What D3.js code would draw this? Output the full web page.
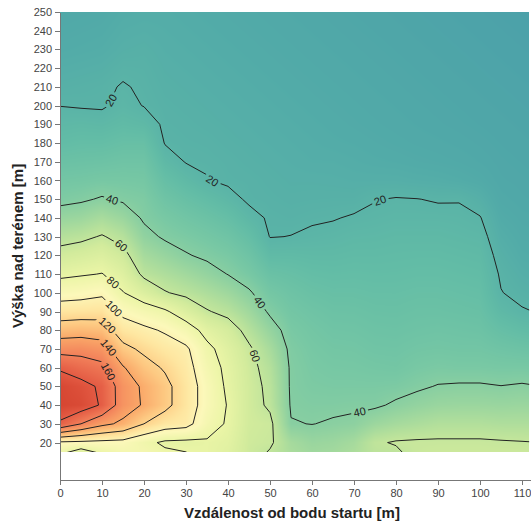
<!DOCTYPE html>
<html lang="cs">
<head>
<meta charset="utf-8">
<title>Výška nad terénem</title>
<script src="https://cdn.jsdelivr.net/npm/d3@7"></script>
<style>
  html, body { margin: 0; padding: 0; background: #fff; }
  #chart svg { display: block; }
  .axis text { font: 11px "Liberation Sans", Arial, sans-serif; fill: #444; }
  .axis path, .axis line { stroke: #777; shape-rendering: crispEdges; }
  .title { font: bold 15px "Liberation Sans", Arial, sans-serif; fill: #222; }
  .clabel { font: 11px "Liberation Sans", Arial, sans-serif; fill: #222; }
</style>
</head>
<body>
<div id="chart"></div>
<script>
// grid columns: distance from the start point [m]
const distances = [0, 5, 10, 15, 20, 25, 30, 35, 40, 45, 50, 55, 60, 65, 70, 75, 80, 85, 90, 95, 100, 105, 110, 115];
// grid rows: height above ground [m], top to bottom
const heights = [250, 240, 230, 220, 210, 200, 190, 180, 170, 160, 150, 140, 130, 120, 110, 100, 90, 80, 70, 60, 50, 40, 30, 20, 10];
const grid = [
  [13, 13.5, 14, 15.5, 16, 16, 15.5, 15, 14.5, 14, 13.5, 13, 12.5, 12, 11.5, 11, 10.5, 10, 9.5, 9, 8.5, 8, 7.5, 7],
  [14, 14.5, 15, 16.5, 17, 16.5, 16, 15.5, 15, 14.5, 14, 13.5, 13, 12.5, 12, 11.5, 11, 10.5, 10, 9.5, 9, 8.5, 8, 7.5],
  [15, 15.5, 16, 17.5, 18, 17, 16.5, 16, 15.5, 15, 14.5, 14, 13.5, 13, 12.5, 12, 11.5, 11, 10.5, 10, 9.5, 9, 8.5, 8],
  [16.5, 17, 17.5, 19, 18.8, 17.5, 17, 16.5, 16, 15.5, 15, 14.5, 14, 13.5, 13, 12.5, 12, 11.5, 11, 10.5, 10, 9.5, 9, 8.5],
  [18, 18.5, 19, 20.4, 19.3, 18, 17.5, 17, 16.5, 16, 15.5, 15, 14.5, 14, 13.5, 13, 12.5, 12, 11.5, 11, 10.5, 10, 9.5, 9],
  [19.9, 19.5, 19.3, 21.5, 19.8, 18.5, 18, 17.5, 17, 16.5, 16, 15.5, 15, 14.5, 14, 13.5, 13, 12.5, 12, 11.5, 11, 10.5, 10, 9.5],
  [22.5, 23, 22.5, 24, 23, 19, 18.5, 18, 17.5, 17, 16.5, 16, 15.5, 15, 14.5, 14, 13.5, 13, 12.5, 12, 11.5, 11, 10.5, 10],
  [25, 26, 26, 27.5, 27.5, 19.7, 19, 18.7, 18, 17.5, 17, 16.5, 16, 15.5, 15.2, 14.7, 14.2, 13.7, 13.3, 12.8, 12.2, 11.5, 11, 10.5],
  [29, 29.5, 30, 31, 31, 23, 19.7, 19.3, 18.7, 18, 17.5, 17, 16.5, 16.5, 16, 15.5, 15.2, 14.7, 14.3, 13.8, 13, 12, 11.5, 11],
  [33, 33.5, 34.5, 34.5, 34, 27, 23.4, 20.3, 19, 18.7, 18, 17.5, 17.5, 17.3, 17, 17, 17, 16.5, 16.2, 15.5, 14.5, 12.5, 12, 11.5],
  [37, 38.5, 41, 38.5, 37, 31, 27.7, 25, 22.2, 19, 18.5, 18, 18.2, 18.3, 18.3, 19.8, 20.3, 20.1, 19.6, 19.7, 17.5, 13.5, 12.5, 12],
  [45.5, 47, 51, 46.6, 38.5, 35, 32, 29.4, 26.5, 22.1, 19.2, 18.8, 19.3, 19.7, 20.5, 21, 21.5, 21.5, 21.5, 21.2, 20.3, 15, 13.5, 13],
  [55, 57, 61, 55.5, 43.4, 38.5, 36.2, 33.7, 30.9, 26.4, 19.8, 20.1, 21, 21.5, 22.3, 22.5, 23, 23, 23, 22.5, 22, 16.5, 14.5, 14],
  [65, 67.6, 70.7, 64, 50.2, 45.5, 40.8, 38, 35.3, 30.7, 23.9, 24, 23.5, 23.5, 24, 24, 24.3, 24.5, 24.5, 24, 23.5, 18, 15.5, 15],
  [76.4, 78.5, 80.5, 72.2, 57, 52.9, 48.8, 44.4, 39.7, 35, 28.8, 27.5, 26, 25.5, 25.8, 25.5, 25.6, 26, 26, 25.5, 25, 19.3, 17, 16],
  [91.7, 93.4, 96.8, 80.7, 70.6, 60.9, 56.8, 52.5, 47.8, 41.3, 33.6, 30.5, 28.5, 27.5, 27.5, 27, 27, 27.5, 27.5, 27, 26.5, 20.2, 18.5, 17.5],
  [110.1, 111, 112, 95.2, 88.3, 82.3, 70.9, 61, 56.2, 48.3, 38.3, 33, 31, 29.5, 29.3, 28.5, 28.3, 29, 29, 28.5, 28, 23, 20.5, 19.5],
  [130, 131.8, 129.8, 109.9, 103.8, 98, 88.3, 74.6, 67, 55.4, 45, 35.5, 33, 31.3, 31, 30, 29.7, 30.5, 31, 30.5, 30, 27, 25, 24],
  [152.7, 153.3, 149, 125.2, 116.3, 108.4, 103, 84, 73, 62, 51, 37.5, 34.5, 33, 32.7, 31.5, 31.3, 32.5, 33, 32.5, 32.5, 31, 30, 29.5],
  [177.5, 170.3, 165, 141.5, 127, 118, 107, 88, 76, 64, 55, 38.5, 35.5, 34.5, 34.3, 33.5, 33, 35, 36, 35.5, 35.5, 35, 35, 34.5],
  [192, 186, 177, 150, 137, 125, 110, 92, 77, 65, 57, 38.5, 36.5, 36, 36, 36, 36.5, 38.5, 40.5, 41, 41, 40.2, 41, 40],
  [193, 190, 178, 150, 138, 125, 110, 92, 79, 65, 58, 39, 38, 38, 38.5, 38.5, 41.5, 44, 46, 46.5, 46.5, 46, 46.5, 46],
  [177, 160, 144.8, 136, 120, 109.5, 106, 88, 78, 65, 63, 40.5, 39.8, 41, 42, 47, 50, 52, 54, 54, 54, 53, 53, 53],
  [97, 96, 95, 94, 85, 77, 76, 78, 75, 64, 62, 50, 46, 47, 50, 58.5, 61, 61.5, 61.5, 61.5, 61.5, 61, 60.5, 60],
  [70, 48, 70, 82, 90, 88, 84, 78, 72, 63, 56, 53, 50, 51, 54, 57, 55, 62, 64, 64, 64, 64, 64, 64]
];
const levels = [20, 40, 60, 80, 100, 120, 140, 160, 180];
const xTicks = [0, 10, 20, 30, 40, 50, 60, 70, 80, 90, 100, 110];
const yTicks = [20, 30, 40, 50, 60, 70, 80, 90, 100, 110, 120, 130, 140, 150, 160, 170, 180, 190, 200, 210, 220, 230, 240, 250];

// where the contour labels sit: [level, distance, height]
const labelAnchors = [
  [20, 13, 202], [20, 36.4, 160.7], [20, 76.2, 149.5],
  [40, 12.4, 149.5], [40, 47.6, 95], [40, 71.4, 35.8],
  [60, 14.8, 126.1], [60, 46.9, 66.7],
  [80, 13.1, 106.8], [100, 12.9, 91.8], [120, 11, 82], [140, 11.4, 70.5], [160, 11.2, 57.7]
];

const width = 531, height = 524;
const xEdge = 111.7;   // last measured distance
const yFloor = 15;     // lowest measured height
const yTop = 250;

const x = d3.scaleLinear().domain([0, 112]).range([60, 530.4]);
const y = d3.scaleLinear().domain([0, 250]).range([480, 12]);

const color = d3.scaleLinear()
    .domain([5, 15, 25, 35, 45, 55, 65, 80, 95, 110, 125, 140, 160, 180, 195])
    .range(["#4a9ea9", "#52aba8", "#62bca6", "#78c8a4", "#96d49f", "#b5e09b", "#d2eb9c",
            "#ebf5a6", "#fcf8ba", "#fee6a0", "#fdc982", "#faa768", "#f2805a", "#e35a43", "#d4432f"])
    .clamp(true);

const nx = distances.length, ny = heights.length;
const stepX = distances[1] - distances[0];
const stepY = heights[1] - heights[0];

const svg = d3.select("#chart").append("svg")
    .attr("width", width)
    .attr("height", height)
    .attr("viewBox", [0, 0, width, height]);

const defs = svg.append("defs");
defs.append("clipPath").attr("id", "plotClip")
  .append("rect")
    .attr("x", x(0)).attr("y", y(yTop))
    .attr("width", x(xEdge) - x(0)).attr("height", y(yFloor) - y(yTop));

// ---- raster fill: bilinear sampling of the grid, coloured through the scale
function sample(d, h) {
  const fi = (d - distances[0]) / stepX, fj = (h - heights[0]) / stepY;
  const i0 = Math.max(0, Math.min(nx - 2, Math.floor(fi)));
  const j0 = Math.max(0, Math.min(ny - 2, Math.floor(fj)));
  const tx = fi - i0, ty = fj - j0;
  const a = grid[j0][i0] * (1 - tx) + grid[j0][i0 + 1] * tx;
  const b = grid[j0 + 1][i0] * (1 - tx) + grid[j0 + 1][i0 + 1] * tx;
  return a * (1 - ty) + b * ty;
}

const lut = d3.range(0, 2001).map(k => d3.rgb(color(k / 10)));
const px0 = Math.round(x(0)), py0 = Math.round(y(yTop));
const pw = Math.round(x(xEdge)) - px0, ph = Math.round(y(yFloor)) - py0;
const canvas = document.createElement("canvas");
canvas.width = pw; canvas.height = ph;
const ctx = canvas.getContext("2d");
const img = ctx.createImageData(pw, ph);
for (let j = 0; j < ph; j++) {
  const h = y.invert(py0 + j + 0.5);
  for (let i = 0; i < pw; i++) {
    const d = x.invert(px0 + i + 0.5);
    const v = sample(d, h);
    const c = lut[Math.max(0, Math.min(2000, Math.round(v * 10)))];
    const o = (j * pw + i) * 4;
    img.data[o] = c.r; img.data[o + 1] = c.g; img.data[o + 2] = c.b; img.data[o + 3] = 255;
  }
}
ctx.putImageData(img, 0, 0);
svg.append("image")
    .attr("x", px0).attr("y", py0)
    .attr("width", pw).attr("height", ph)
    .attr("preserveAspectRatio", "none")
    .attr("href", canvas.toDataURL());

// ---- contour lines
const contours = d3.contours()
    .size([nx, ny])
    .thresholds(levels)(grid.flat());

// grid coordinate -> data value (cell centres sit at index + 0.5)
const gx = c => distances[0] + (c - 0.5) * stepX;
const gy = c => heights[0] + (c - 0.5) * stepY;
const toPixel = p => [x(gx(p[0])), y(gy(p[1]))];

const path = d3.geoPath(d3.geoTransform({
  point(a, b) { this.stream.point(x(gx(a)), y(gy(b))); }
}));

// label placement: nearest point on the isoline, tangent from +-9px along it
function placeLabel([level, d, h]) {
  const c = contours.find(k => k.value === level);
  const tx = x(d), ty = y(h);
  let best = null;
  c.coordinates.forEach(poly => poly.forEach(ring => {
    const pts = ring.map(toPixel);
    const cum = [0];
    for (let i = 1; i < pts.length; i++) {
      cum.push(cum[i - 1] + Math.hypot(pts[i][0] - pts[i - 1][0], pts[i][1] - pts[i - 1][1]));
    }
    for (let i = 0; i < pts.length - 1; i++) {
      const [ax, ay] = pts[i], [bx, by] = pts[i + 1];
      const dx = bx - ax, dy = by - ay, len2 = dx * dx + dy * dy;
      if (!len2) continue;
      const t = Math.max(0, Math.min(1, ((tx - ax) * dx + (ty - ay) * dy) / len2));
      const qx = ax + t * dx, qy = ay + t * dy;
      const dist = (qx - tx) ** 2 + (qy - ty) ** 2;
      if (!best || dist < best.dist) best = {dist, qx, qy, pts, cum, s: cum[i] + t * Math.sqrt(len2)};
    }
  }));
  const at = s => {
    const {pts, cum} = best;
    s = Math.max(0, Math.min(cum[cum.length - 1], s));
    let i = d3.bisectRight(cum, s) - 1;
    i = Math.max(0, Math.min(pts.length - 2, i));
    const seg = cum[i + 1] - cum[i] || 1, t = (s - cum[i]) / seg;
    return [pts[i][0] + t * (pts[i + 1][0] - pts[i][0]), pts[i][1] + t * (pts[i + 1][1] - pts[i][1])];
  };
  const p1 = at(best.s - 9), p2 = at(best.s + 9);
  let angle = Math.atan2(p2[1] - p1[1], p2[0] - p1[0]) * 180 / Math.PI;
  if (angle > 90) angle -= 180;
  if (angle < -90) angle += 180;
  return {level, x: best.qx, y: best.qy, angle};
}

const labels = labelAnchors.map(placeLabel);

const mask = defs.append("mask").attr("id", "labelMask").attr("maskUnits", "userSpaceOnUse");
mask.append("rect").attr("x", 0).attr("y", 0).attr("width", width).attr("height", height).attr("fill", "#fff");
mask.selectAll("rect.gap")
  .data(labels)
  .join("rect")
    .attr("class", "gap")
    .attr("x", d => -(String(d.level).length * 3.3 + 2))
    .attr("y", -5)
    .attr("width", d => 2 * (String(d.level).length * 3.3 + 2))
    .attr("height", 10)
    .attr("fill", "#000")
    .attr("transform", d => `translate(${d.x},${d.y}) rotate(${d.angle})`);

svg.append("g")
    .attr("clip-path", "url(#plotClip)")
  .append("g")
    .attr("mask", "url(#labelMask)")
  .selectAll("path")
  .data(contours)
  .join("path")
    .attr("d", path)
    .attr("fill", "none")
    .attr("stroke", "#222")
    .attr("stroke-width", 1)
    .attr("stroke-linejoin", "round");

svg.append("g")
  .selectAll("text")
  .data(labels)
  .join("text")
    .attr("class", "clabel")
    .attr("text-anchor", "middle")
    .attr("dy", "0.35em")
    .attr("transform", d => `translate(${d.x},${d.y}) rotate(${d.angle})`)
    .text(d => d.level);

// ---- axes
svg.append("g")
    .attr("class", "axis")
    .attr("transform", `translate(0,${y(0)})`)
    .call(d3.axisBottom(x).tickValues(xTicks).tickSize(5).tickSizeOuter(0).tickPadding(4));

svg.append("g")
    .attr("class", "axis")
    .attr("transform", `translate(${x(0)},0)`)
    .call(d3.axisLeft(y).tickValues(yTicks).tickSize(5).tickSizeOuter(0).tickPadding(3));

svg.append("text")
    .attr("class", "title")
    .attr("x", 292)
    .attr("y", 518)
    .attr("text-anchor", "middle")
    .text("Vzdálenost od bodu startu [m]");

svg.append("text")
    .attr("class", "title")
    .attr("transform", "translate(23,246) rotate(-90)")
    .attr("text-anchor", "middle")
    .text("Výška nad terénem [m]");
</script>
</body>
</html>
